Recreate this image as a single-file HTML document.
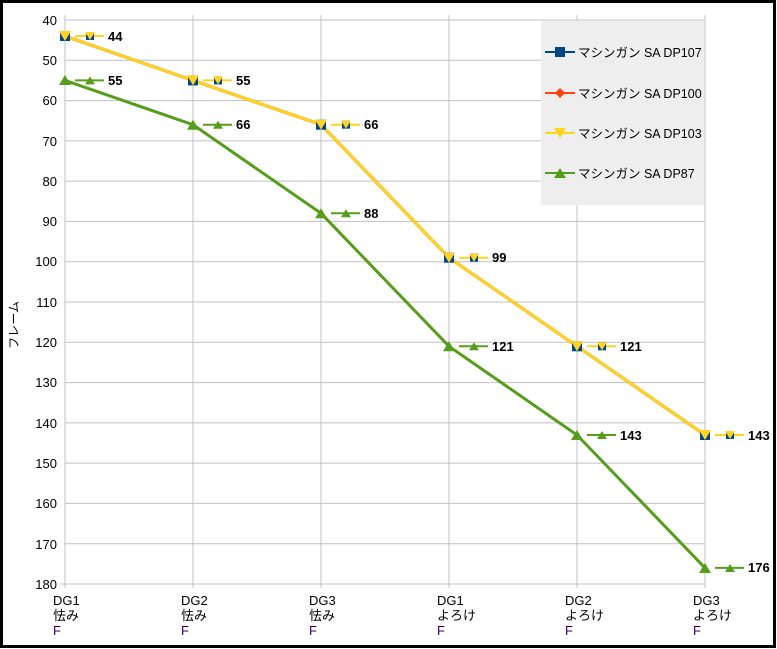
<!DOCTYPE html><html><head><meta charset="utf-8"><style>body{margin:0;background:#fff}svg{display:block;font-family:"Liberation Sans","Noto Sans CJK JP",sans-serif}</style></head><body>
<svg width="777" height="649" viewBox="0 0 777 649">
<rect x="1.5" y="1.5" width="773" height="645" fill="#fff" stroke="#000" stroke-width="3"/>
<g stroke="#c0c0c0" stroke-width="1">
<line x1="65" y1="20" x2="705" y2="20"/><line x1="65" y1="60.3" x2="705" y2="60.3"/><line x1="65" y1="100.6" x2="705" y2="100.6"/><line x1="65" y1="140.9" x2="705" y2="140.9"/><line x1="65" y1="181.1" x2="705" y2="181.1"/><line x1="65" y1="221.4" x2="705" y2="221.4"/><line x1="65" y1="261.7" x2="705" y2="261.7"/><line x1="65" y1="302" x2="705" y2="302"/><line x1="65" y1="342.3" x2="705" y2="342.3"/><line x1="65" y1="382.6" x2="705" y2="382.6"/><line x1="65" y1="422.9" x2="705" y2="422.9"/><line x1="65" y1="463.1" x2="705" y2="463.1"/><line x1="65" y1="503.4" x2="705" y2="503.4"/><line x1="65" y1="543.7" x2="705" y2="543.7"/><line x1="60" y1="584" x2="705" y2="584"/>
<line x1="65" y1="15" x2="65" y2="588"/><line x1="193" y1="15" x2="193" y2="588"/><line x1="321" y1="15" x2="321" y2="588"/><line x1="449" y1="15" x2="449" y2="588"/><line x1="577" y1="15" x2="577" y2="588"/><line x1="705" y1="15" x2="705" y2="588"/>
</g>
<g font-size="13" fill="#000" text-anchor="end">
<text x="57" y="25">40</text><text x="57" y="65">50</text><text x="57" y="105">60</text><text x="57" y="146">70</text><text x="57" y="186">80</text><text x="57" y="226">90</text><text x="57" y="266">100</text><text x="57" y="307">110</text><text x="57" y="347">120</text><text x="57" y="387">130</text><text x="57" y="428">140</text><text x="57" y="468">150</text><text x="57" y="508">160</text><text x="57" y="549">170</text><text x="57" y="589">180</text>
</g>
<text transform="translate(18,325) rotate(-90)" font-size="12" text-anchor="middle">フレーム</text>
<g font-size="13" fill="#000">
<text x="53" y="605">DG1</text><text x="53" y="620">怯み</text><text x="53" y="635" fill="#33006f">F</text>
<text x="181" y="605">DG2</text><text x="181" y="620">怯み</text><text x="181" y="635" fill="#33006f">F</text>
<text x="309" y="605">DG3</text><text x="309" y="620">怯み</text><text x="309" y="635" fill="#33006f">F</text>
<text x="437" y="605">DG1</text><text x="437" y="620">よろけ</text><text x="437" y="635" fill="#33006f">F</text>
<text x="565" y="605">DG2</text><text x="565" y="620">よろけ</text><text x="565" y="635" fill="#33006f">F</text>
<text x="693" y="605">DG3</text><text x="693" y="620">よろけ</text><text x="693" y="635" fill="#33006f">F</text>
</g>
<polyline points="65,36.1 193,80.4 321,124.7 449,257.7 577,346.3 705,435" fill="none" stroke="#004586" stroke-width="3"/>
<polyline points="65,36.1 193,80.4 321,124.7 449,257.7 577,346.3 705,435" fill="none" stroke="#ff420e" stroke-width="3"/>
<polyline points="65,36.1 193,80.4 321,124.7 449,257.7 577,346.3 705,435" fill="none" stroke="#ffd320" stroke-width="3"/>
<polyline points="65,80.4 193,124.7 321,213.3 449,346.3 577,435 705,567.9" fill="none" stroke="#579d1c" stroke-width="3"/>
<g stroke="none">
<g fill="#004586"><rect x="60" y="31" width="10" height="10"/><rect x="188" y="75.4" width="10" height="10"/><rect x="316" y="119.7" width="10" height="10"/><rect x="444" y="252.7" width="10" height="10"/><rect x="572" y="341.3" width="10" height="10"/><rect x="700" y="430" width="10" height="10"/></g>
<g fill="#ffd320"><polygon points="59,31 71,31 65,41"/><polygon points="187,75.4 199,75.4 193,85.4"/><polygon points="315,119.7 327,119.7 321,129.7"/><polygon points="443,252.7 455,252.7 449,262.7"/><polygon points="571,341.3 583,341.3 577,351.3"/><polygon points="699,430 711,430 705,440"/></g>
<g fill="#579d1c"><polygon points="59,85 71,85 65,75"/><polygon points="187,129.7 199,129.7 193,119.7"/><polygon points="315,218.3 327,218.3 321,208.3"/><polygon points="443,351.3 455,351.3 449,341.3"/><polygon points="571,440 583,440 577,430"/><polygon points="699,573 711,573 705,563"/></g>
</g>
<g font-size="13" font-weight="bold">
<g stroke="#ffd320" stroke-width="2"><line x1="75" y1="36" x2="104" y2="36"/><line x1="203" y1="80.4" x2="232" y2="80.4"/><line x1="331" y1="124.7" x2="360" y2="124.7"/><line x1="459" y1="257.7" x2="488" y2="257.7"/><line x1="587" y1="346.3" x2="616" y2="346.3"/><line x1="715" y1="435" x2="744" y2="435"/></g>
<g fill="#004586"><rect x="86" y="32" width="8" height="8"/><rect x="214" y="76.4" width="8" height="8"/><rect x="342" y="120.7" width="8" height="8"/><rect x="470" y="253.7" width="8" height="8"/><rect x="598" y="342.3" width="8" height="8"/><rect x="726" y="431" width="8" height="8"/></g>
<g fill="#ffd320"><polygon points="85,32 95,32 90,40"/><polygon points="213,76.4 223,76.4 218,84.4"/><polygon points="341,120.7 351,120.7 346,128.7"/><polygon points="469,253.7 479,253.7 474,261.7"/><polygon points="597,342.3 607,342.3 602,350.3"/><polygon points="725,431 735,431 730,439"/></g>
<text x="108" y="41">44</text><text x="236" y="85">55</text><text x="364" y="129">66</text><text x="492" y="262">99</text><text x="620" y="351">121</text><text x="748" y="440">143</text>
<g stroke="#579d1c" stroke-width="2"><line x1="75" y1="80.4" x2="104" y2="80.4"/><line x1="203" y1="124.7" x2="232" y2="124.7"/><line x1="331" y1="213.3" x2="360" y2="213.3"/><line x1="459" y1="346.3" x2="488" y2="346.3"/><line x1="587" y1="435" x2="616" y2="435"/><line x1="715" y1="567.9" x2="744" y2="567.9"/></g>
<g fill="#579d1c"><polygon points="85,84.4 95,84.4 90,76.4"/><polygon points="213,128.7 223,128.7 218,120.7"/><polygon points="341,217.3 351,217.3 346,209.3"/><polygon points="469,350.3 479,350.3 474,342.3"/><polygon points="597,439 607,439 602,431"/><polygon points="725,572 735,572 730,564"/></g>
<text x="108" y="85">55</text><text x="236" y="129">66</text><text x="364" y="218">88</text><text x="492" y="351">121</text><text x="620" y="440">143</text><text x="748" y="572">176</text>
</g>
<rect x="541" y="21" width="163" height="184" fill="#eeeeee"/>
<g font-size="12.5">
<line x1="545" y1="52" x2="575" y2="52" stroke="#004586" stroke-width="2"/><rect x="555" y="47" width="10" height="10" fill="#004586"/><text x="578" y="57">マシンガン SA DP107</text>
<line x1="545" y1="93" x2="575" y2="93" stroke="#ff420e" stroke-width="2"/><polygon points="560,88 565,93 560,98 555,93" fill="#ff420e"/><text x="578" y="98">マシンガン SA DP100</text>
<line x1="545" y1="133" x2="575" y2="133" stroke="#ffd320" stroke-width="2"/><polygon points="554,128 566,128 560,138" fill="#ffd320"/><text x="578" y="138">マシンガン SA DP103</text>
<line x1="545" y1="173" x2="575" y2="173" stroke="#579d1c" stroke-width="2"/><polygon points="554,178 566,178 560,168" fill="#579d1c"/><text x="578" y="178">マシンガン SA DP87</text>
</g>
</svg></body></html>
